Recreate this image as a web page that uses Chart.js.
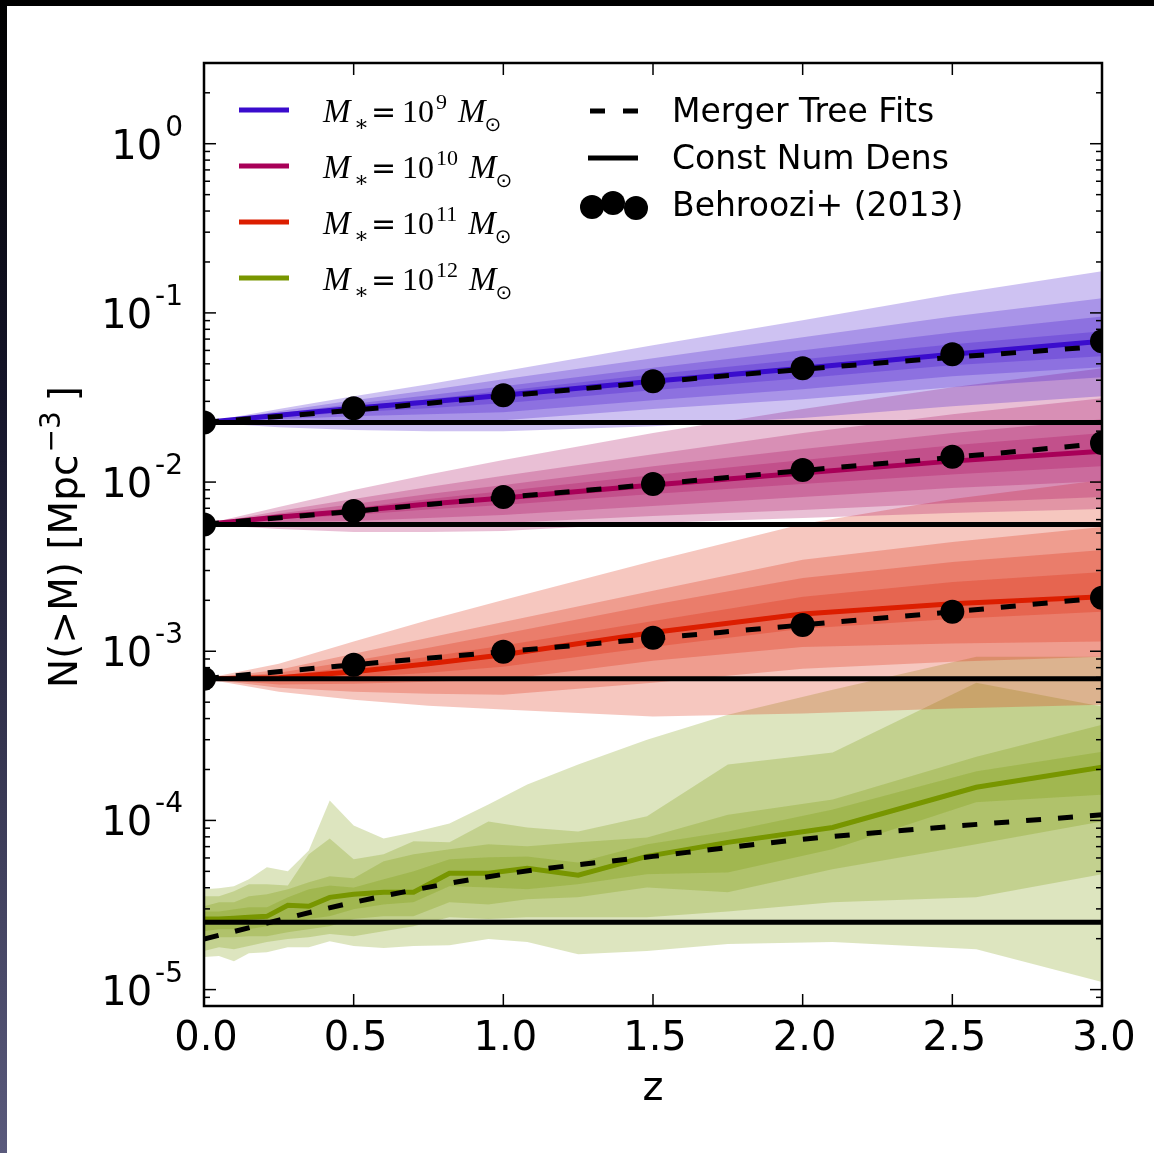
<!DOCTYPE html>
<html>
<head>
<meta charset="utf-8">
<script src="https://cdn.jsdelivr.net/npm/chart.js@4.4.0/dist/chart.umd.min.js"></script>
<style>
  html, body { margin: 0; padding: 0; }
  body {
    width: 1154px; height: 1153px; overflow: hidden; position: relative;
    background: linear-gradient(to bottom, #000 0%, #15152a 35%, #5a5a7c 100%);
  }
  #wrap { position: absolute; left: 7px; top: 6px; width: 1147px; height: 1147px; background: #fff; }
</style>
</head>
<body>
<div id="wrap"><canvas id="densChart" width="1147" height="1147"></canvas></div>
<script>
// redshift grids
const zSmooth = [0, 0.25, 0.5, 0.75, 1, 1.5, 2, 2.5, 3];
const zSnap = [0, 0.05, 0.1, 0.15, 0.21, 0.28, 0.35, 0.42, 0.5, 0.6, 0.7, 0.82, 0.95, 1.08, 1.25, 1.48, 1.75, 2.1, 2.58, 3.0];
const zFit = [0, 0.5, 1, 1.5, 2, 2.5, 3];
const zEnds = [0, 3];

const xTickValues = [0, 0.5, 1, 1.5, 2, 2.5, 3];
const xTickLabels = ['0.0', '0.5', '1.0', '1.5', '2.0', '2.5', '3.0'];
const yTickExponents = ['0', '-1', '-2', '-3', '-4', '-5'];
const massExponents = ['9', '10', '11', '12'];

// M* = 10^9
const m9Const = 0.0225;
const m9Median = [0.0225, 0.0248, 0.0273, 0.0297, 0.0326, 0.0394, 0.0471, 0.0569, 0.0679];
const m9Upper = [
  [0.0225, 0.0270, 0.0322, 0.0379, 0.0452, 0.0643, 0.0904, 0.129, 0.176],
  [0.0225, 0.0262, 0.0305, 0.0349, 0.0405, 0.0539, 0.0717, 0.0953, 0.122],
  [0.0225, 0.0255, 0.0290, 0.0326, 0.0368, 0.0474, 0.0601, 0.0767, 0.0953],
  [0.0225, 0.0252, 0.0281, 0.0309, 0.0347, 0.0434, 0.0532, 0.0652, 0.0778]
];
const m9Lower = [
  [0.0225, 0.0211, 0.0203, 0.0200, 0.0200, 0.0214, 0.0239, 0.0281, 0.0322],
  [0.0225, 0.0229, 0.0232, 0.0232, 0.0232, 0.0270, 0.0309, 0.0363, 0.0416],
  [0.0225, 0.0235, 0.0245, 0.0252, 0.0259, 0.0305, 0.0354, 0.0422, 0.0477],
  [0.0225, 0.0242, 0.0259, 0.0273, 0.0292, 0.0349, 0.0411, 0.0490, 0.0554]
];
const m9Fit = [0.0225, 0.0266, 0.0322, 0.0389, 0.0464, 0.0546, 0.0634];
const m9Behroozi = [0.0225, 0.0273, 0.0326, 0.0394, 0.0471, 0.0569, 0.0679];

// M* = 10^10
const m10Const = 0.00562;
const m10Median = [0.00562, 0.00622, 0.00675, 0.00742, 0.00805, 0.00960, 0.0113, 0.0133, 0.0152];
const m10Upper = [
  [0.00562, 0.00712, 0.00897, 0.0111, 0.0135, 0.0195, 0.0270, 0.0363, 0.0471],
  [0.00562, 0.00675, 0.00794, 0.00934, 0.0109, 0.0146, 0.0195, 0.0252, 0.0313],
  [0.00562, 0.00652, 0.00742, 0.00850, 0.00960, 0.0124, 0.0157, 0.0195, 0.0235],
  [0.00562, 0.00635, 0.00702, 0.00794, 0.00885, 0.0110, 0.0135, 0.0165, 0.0195]
];
const m10Lower = [
  [0.00562, 0.00528, 0.00507, 0.00507, 0.00514, 0.00573, 0.00613, 0.00657, 0.00693],
  [0.00562, 0.00558, 0.00550, 0.00565, 0.00573, 0.00630, 0.00684, 0.00752, 0.00816],
  [0.00562, 0.00581, 0.00589, 0.00613, 0.00639, 0.00722, 0.00816, 0.00922, 0.0101],
  [0.00562, 0.00605, 0.00639, 0.00688, 0.00731, 0.00850, 0.00973, 0.0111, 0.0124]
];
const m10Fit = [0.00562, 0.00672, 0.00810, 0.00970, 0.0117, 0.0140, 0.0169];
const m10Behroozi = [0.00562, 0.00675, 0.00816, 0.00973, 0.0118, 0.0141, 0.0170];

// M* = 10^11
const m11Const = 0.000688;
const m11Median = [0.000688, 0.000698, 0.000757, 0.000844, 0.000954, 0.00129, 0.00166, 0.00191, 0.00210];
const m11Upper = [
  [0.000688, 0.000844, 0.00114, 0.00153, 0.00201, 0.00342, 0.00565, 0.00794, 0.0103],
  [0.000688, 0.000778, 0.000967, 0.00120, 0.00149, 0.00228, 0.00347, 0.00443, 0.00543],
  [0.000688, 0.000747, 0.000879, 0.00105, 0.00127, 0.00188, 0.00271, 0.00337, 0.00397],
  [0.000688, 0.000717, 0.000810, 0.000928, 0.00108, 0.00151, 0.00210, 0.00257, 0.00294]
];
const m11Lower = [
  [0.000688, 0.000577, 0.000517, 0.000477, 0.000452, 0.000411, 0.000428, 0.000458, 0.000483],
  [0.000688, 0.000609, 0.000577, 0.000561, 0.000554, 0.000652, 0.000788, 0.000867, 0.000928],
  [0.000688, 0.000635, 0.000643, 0.000661, 0.000679, 0.000879, 0.00106, 0.00111, 0.00114],
  [0.000688, 0.000670, 0.000698, 0.000747, 0.000810, 0.00106, 0.00136, 0.00155, 0.00171]
];
const m11Fit = [0.000688, 0.000832, 0.000993, 0.00119, 0.00143, 0.00171, 0.00207];
const m11Behroozi = [0.000688, 0.000832, 0.000993, 0.00120, 0.00143, 0.00171, 0.00207];

// M* = 10^12 (noisier, per snapshot)
const m12Const = 2.50e-5;
const m12Median = [2.61e-5, 2.61e-5, 2.64e-5, 2.68e-5, 2.71e-5, 3.15e-5, 3.11e-5, 3.51e-5, 3.66e-5, 3.76e-5,
                   3.76e-5, 4.87e-5, 4.87e-5, 5.21e-5, 4.74e-5, 6.13e-5, 7.42e-5, 9.09e-5, 1.57e-4, 2.06e-4];
const m12Upper = [
  [3.92e-5, 3.97e-5, 4.08e-5, 4.49e-5, 5.28e-5, 5.00e-5, 6.65e-5, 1.31e-4, 9.34e-5, 7.83e-5,
   8.50e-5, 9.60e-5, 1.24e-4, 1.63e-4, 2.14e-4, 3.00e-4, 4.22e-4, 5.93e-4, 9.28e-4, 9.28e-4],
  [3.56e-5, 3.56e-5, 3.81e-5, 4.19e-5, 4.19e-5, 4.13e-5, 6.30e-5, 7.83e-5, 5.89e-5, 6.30e-5,
   7.52e-5, 7.42e-5, 9.86e-5, 9.09e-5, 8.61e-5, 1.06e-4, 2.14e-4, 2.52e-4, 6.52e-4, 4.71e-4],
  [3.11e-5, 3.28e-5, 3.28e-5, 3.56e-5, 3.66e-5, 3.92e-5, 4.31e-5, 4.67e-5, 4.55e-5, 5.73e-5,
   6.30e-5, 6.75e-5, 7.22e-5, 7.03e-5, 7.42e-5, 7.94e-5, 1.08e-4, 1.33e-4, 2.38e-4, 3.68e-4],
  [2.90e-5, 2.90e-5, 2.99e-5, 3.07e-5, 3.07e-5, 3.51e-5, 3.92e-5, 4.13e-5, 4.02e-5, 4.49e-5,
   5.00e-5, 5.89e-5, 6.05e-5, 6.13e-5, 5.65e-5, 7.22e-5, 8.61e-5, 1.16e-4, 1.95e-4, 2.55e-4]
];
const m12Lower = [
  [1.56e-5, 1.58e-5, 1.47e-5, 1.64e-5, 1.66e-5, 1.78e-5, 1.78e-5, 1.93e-5, 1.81e-5, 1.76e-5,
   1.81e-5, 1.83e-5, 1.99e-5, 1.91e-5, 1.62e-5, 1.69e-5, 1.86e-5, 1.91e-5, 1.73e-5, 1.11e-5],
  [1.69e-5, 1.78e-5, 1.73e-5, 1.81e-5, 1.91e-5, 1.99e-5, 2.04e-5, 2.13e-5, 2.07e-5, 2.21e-5,
   2.37e-5, 2.68e-5, 2.61e-5, 2.68e-5, 2.68e-5, 2.68e-5, 2.90e-5, 3.28e-5, 3.51e-5, 4.80e-5],
  [1.93e-5, 2.04e-5, 2.04e-5, 2.07e-5, 2.07e-5, 2.18e-5, 2.27e-5, 2.37e-5, 2.61e-5, 2.71e-5,
   2.71e-5, 3.28e-5, 3.19e-5, 3.42e-5, 3.51e-5, 4.02e-5, 3.76e-5, 5.14e-5, 7.22e-5, 9.86e-5],
  [2.21e-5, 2.27e-5, 2.27e-5, 2.27e-5, 2.37e-5, 2.43e-5, 2.61e-5, 2.71e-5, 2.99e-5, 3.19e-5,
   3.28e-5, 4.08e-5, 4.02e-5, 3.92e-5, 4.19e-5, 4.80e-5, 4.93e-5, 6.75e-5, 1.28e-4, 1.42e-4]
];
const m12Fit = [1.99e-5, 3.28e-5, 4.80e-5, 6.13e-5, 7.73e-5, 9.22e-5, 1.08e-4];

const masses = [
  { rgb: '58,12,205', z: zSmooth, median: m9Median, upper: m9Upper, lower: m9Lower, fit: m9Fit, obs: m9Behroozi, cnd: m9Const },
  { rgb: '168,0,88', z: zSmooth, median: m10Median, upper: m10Upper, lower: m10Lower, fit: m10Fit, obs: m10Behroozi, cnd: m10Const },
  { rgb: '220,30,0', z: zSmooth, median: m11Median, upper: m11Upper, lower: m11Lower, fit: m11Fit, obs: m11Behroozi, cnd: m11Const },
  { rgb: '120,150,0', z: zSnap, median: m12Median, upper: m12Upper, lower: m12Lower, fit: m12Fit, obs: null, cnd: m12Const }
];

function pts(zs, vs) {
  return zs.map((z, i) => ({ x: z, y: vs[i] }));
}

const datasets = [];
masses.forEach(m => {
  // nested percentile bands, outermost first; overlap makes the inner ones darker
  m.upper.forEach((hi, i) => {
    datasets.push({ data: pts(m.z, hi), fill: '+1', backgroundColor: 'rgba(' + m.rgb + ',0.25)',
      borderColor: 'transparent', borderWidth: 0, pointRadius: 0, order: 10, clip: 0 });
    datasets.push({ data: pts(m.z, m.lower[i]), fill: false,
      borderColor: 'transparent', borderWidth: 0, pointRadius: 0, order: 10, clip: 0 });
  });
  datasets.push({ data: pts(m.z, m.median), borderColor: 'rgb(' + m.rgb + ')', borderWidth: 5,
    pointRadius: 0, fill: false, order: 5, clip: 0 });
});
masses.forEach(m => {
  datasets.push({ data: pts(zEnds, [m.cnd, m.cnd]), borderColor: '#000', borderWidth: 5,
    pointRadius: 0, fill: false, order: 4, clip: 0 });
  datasets.push({ data: pts(zFit, m.fit), borderColor: '#000', borderWidth: 5, borderDash: [15, 17],
    cubicInterpolationMode: 'monotone', pointRadius: 0, fill: false, order: 3, clip: 0 });
  if (m.obs) {
    datasets.push({ data: pts(zFit, m.obs), showLine: false, pointRadius: 12, pointBackgroundColor: '#000',
      pointBorderWidth: 0, order: 1, clip: 0 });
  }
});

const SANS = '"DejaVu Sans", sans-serif';
const SERIF = '"Liberation Serif", "DejaVu Serif", serif';

function supText(ctx, base, sup, xRight, y, baseSize, supSize, rise) {
  ctx.font = supSize + 'px ' + SANS;
  const ws = ctx.measureText(sup).width;
  ctx.textAlign = 'left';
  ctx.fillText(sup, xRight - ws, y - rise);
  ctx.font = baseSize + 'px ' + SANS;
  ctx.textAlign = 'right';
  ctx.fillText(base, xRight - ws - 3, y);
}

const axesDecor = {
  id: 'axesDecor',
  afterDraw(chart) {
    const { ctx, chartArea: a, scales: { x, y } } = chart;
    ctx.save();
    ctx.strokeStyle = '#000';
    ctx.fillStyle = '#000';
    ctx.lineWidth = 1.5;
    const seg = (x1, y1, x2, y2) => { ctx.beginPath(); ctx.moveTo(x1, y1); ctx.lineTo(x2, y2); ctx.stroke(); };

    // inward ticks on all four sides
    xTickValues.forEach(v => {
      const px = x.getPixelForValue(v);
      seg(px, a.bottom, px, a.bottom - 12);
      seg(px, a.top, px, a.top + 12);
    });
    for (let k = -6; k <= 0; k++) {
      for (let m = 1; m <= 9; m++) {
        const v = m * Math.pow(10, k);
        if (v <= y.min || v >= y.max) continue;
        const py = y.getPixelForValue(v);
        const len = m === 1 ? 12 : 6;
        seg(a.left, py, a.left + len, py);
        seg(a.right, py, a.right - len, py);
      }
    }
    ctx.lineWidth = 2.5;
    ctx.strokeRect(a.left, a.top, a.right - a.left, a.bottom - a.top);

    // tick labels
    ctx.textBaseline = 'alphabetic';
    yTickExponents.forEach(e => {
      const py = y.getPixelForValue(Math.pow(10, Number(e)));
      supText(ctx, '10', e, a.left - 21, py + 15, 40, 28, 23);
    });
    ctx.font = '40px ' + SANS;
    ctx.textAlign = 'center';
    xTickValues.forEach((v, i) => ctx.fillText(xTickLabels[i], x.getPixelForValue(v) + 2, a.bottom + 44));
    ctx.fillText('z', (a.left + a.right) / 2, a.bottom + 94);

    // y axis title, rotated
    ctx.save();
    ctx.translate(70, 531);
    ctx.rotate(-Math.PI / 2);
    ctx.font = '39px ' + SANS;
    const t1 = 'N(>M) [Mpc';
    const w1 = ctx.measureText(t1).width;
    ctx.font = '28px ' + SANS;
    const t2 = '\u22123';
    const w2 = ctx.measureText(t2).width;
    ctx.font = '39px ' + SANS;
    const t3 = ']';
    const w3 = ctx.measureText(t3).width;
    let sx = -(w1 + w2 + w3 + 12) / 2;
    ctx.textAlign = 'left';
    ctx.fillText(t1, sx, 0);
    sx += w1 + 2;
    ctx.font = '28px ' + SANS;
    ctx.fillText(t2, sx, -17);
    sx += w2 + 10;
    ctx.font = '39px ' + SANS;
    ctx.fillText(t3, sx, 0);
    ctx.restore();

    // stellar mass legend
    ctx.textAlign = 'left';
    masses.forEach((m, i) => {
      const ly = 104 + i * 56;
      ctx.strokeStyle = 'rgb(' + m.rgb + ')';
      ctx.lineWidth = 5;
      seg(232, ly, 282, ly);
      const base = ly + 12;
      ctx.font = 'italic 33px ' + SERIF;
      ctx.fillText('M', 316, base);
      ctx.font = '22px ' + SERIF;
      ctx.fillText('\u2217', 347, base + 9);
      ctx.font = '30px ' + SANS;
      ctx.fillText('=', 364, base);
      ctx.font = '32px ' + SERIF;
      ctx.fillText('10', 395, base);
      let cx = 395 + ctx.measureText('10').width + 2;
      ctx.font = '22px ' + SERIF;
      ctx.fillText(massExponents[i], cx, base - 13);
      cx += ctx.measureText(massExponents[i]).width + 11;
      ctx.font = 'italic 33px ' + SERIF;
      ctx.fillText('M', cx, base);
      cx += ctx.measureText('M').width - 1;
      ctx.font = '20px ' + SANS;
      ctx.fillText('\u2299', cx, base + 9);
    });

    // line style legend
    ctx.strokeStyle = '#000';
    ctx.lineWidth = 5;
    ctx.setLineDash([15, 18]);
    seg(583, 105, 633, 105);
    ctx.setLineDash([]);
    seg(581, 152, 631, 152);
    [[585, 201], [606, 197], [629, 202]].forEach(p => {
      ctx.beginPath();
      ctx.arc(p[0], p[1], 12, 0, Math.PI * 2);
      ctx.fill();
    });
    ctx.font = '33px ' + SANS;
    ctx.fillText('Merger Tree Fits', 665, 116);
    ctx.fillText('Const Num Dens', 665, 163);
    ctx.fillText('Behroozi+ (2013)', 665, 210);
    ctx.restore();
  }
};

new Chart(document.getElementById('densChart').getContext('2d'), {
  type: 'line',
  data: { datasets: datasets },
  options: {
    responsive: false,
    animation: false,
    layout: { padding: { left: 0, top: 57, right: 52, bottom: 0 } },
    elements: { line: { tension: 0 } },
    scales: {
      x: {
        type: 'linear', min: 0, max: 3,
        grid: { display: false, drawTicks: false }, border: { display: false },
        ticks: { display: false },
        afterFit: s => { s.height = 147; }
      },
      y: {
        type: 'logarithmic', min: 8e-6, max: 3,
        grid: { display: false, drawTicks: false }, border: { display: false },
        ticks: { display: false },
        afterFit: s => { s.width = 197; }
      }
    },
    plugins: { legend: { display: false }, tooltip: { enabled: false } }
  },
  plugins: [axesDecor]
});
</script>
</body>
</html>
